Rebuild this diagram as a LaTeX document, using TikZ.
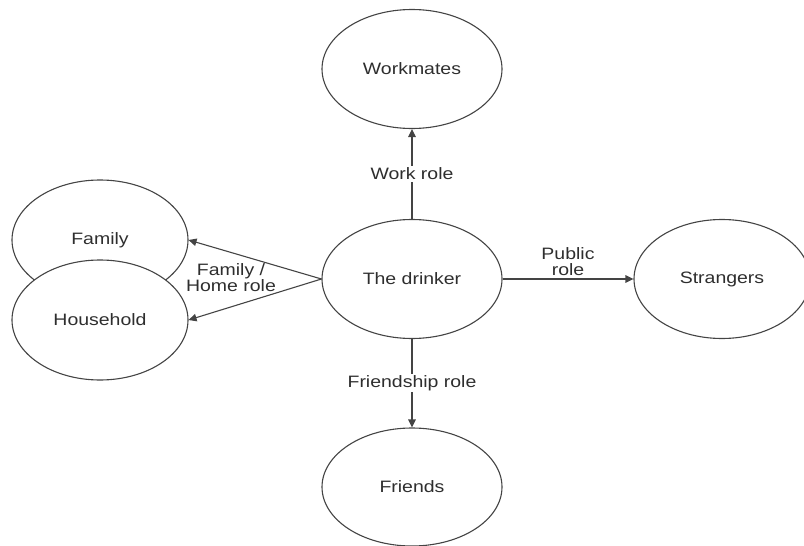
\documentclass[tikz,border=0pt]{standalone}
\usepackage{fontspec}
\setmainfont[FakeStretch=1.18]{Liberation Sans}
\usetikzlibrary{shapes.geometric,arrows.meta}
\definecolor{linec}{HTML}{444444}
\definecolor{textc}{HTML}{2E2E2E}
\tikzset{
  bubble/.style={ellipse,draw=linec,line width=1.1pt,fill=white,inner sep=0pt,
    minimum width=180pt,minimum height=119pt,text=textc,
    font=\fontsize{16.5}{16}\selectfont},
  conn/.style={draw=linec,line width=1.1pt,-{Triangle[length=8pt,width=7.5pt]}},
  lbl/.style={text=textc,font=\fontsize{16.5}{16}\selectfont,align=center,inner sep=1.5pt},
}
\begin{document}
\begin{tikzpicture}[x=1pt,y=-1pt]
\useasboundingbox (0,0) rectangle (804,546);
\node[bubble] (work) at (412,69) {Workmates};
\node[bubble] (drinker) at (412,279) {The drinker};
\node[bubble,minimum width=176pt] (strangers) at (722,279) {Strangers};
\node[bubble,minimum height=118pt] (friends) at (412,487) {Friends};
\node[bubble,minimum width=176pt,minimum height=120pt] (family) at (100,240) {Family};
\node[bubble,minimum width=176pt,minimum height=120pt] (household) at (100,320) {Household};
\draw[conn] (drinker.north) -- node[lbl,fill=white] (workrole) {Work role} (work.south);
\draw[conn] (drinker.east) -- node[lbl,above=1pt] (publicrole) {Public\\role} (strangers.west);
\draw[conn] (drinker.south) -- node[lbl,fill=white] (friendrole) {Friendship role} (friends.north);
\draw[conn] (drinker.west) -- (family.east);
\draw[conn] (drinker.west) -- (household.east);
\node[lbl] (homerole) at (231,278) {Family /\\Home role};
\end{tikzpicture}
\end{document}
